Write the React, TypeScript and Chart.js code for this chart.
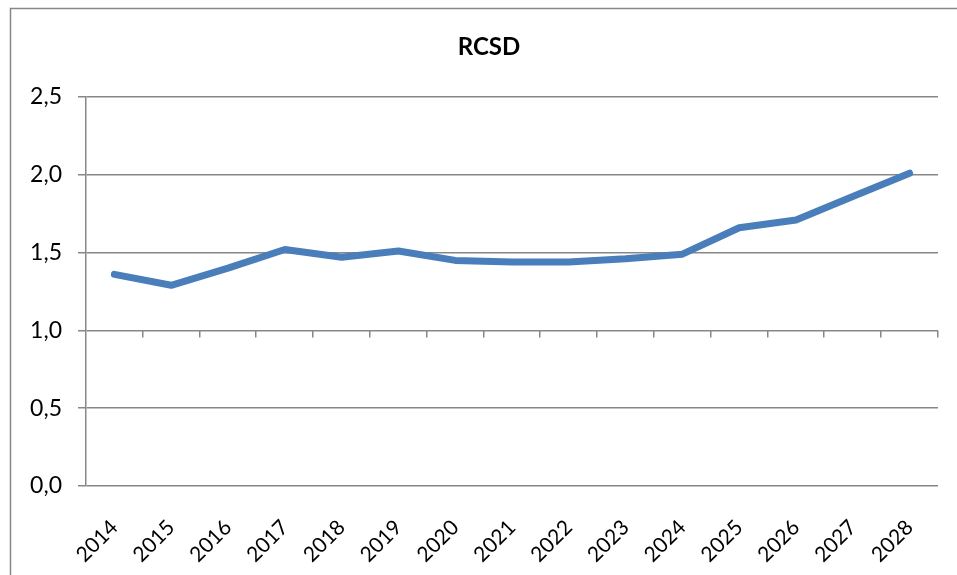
import React, { useEffect, useRef } from "react";
import { Chart, registerables } from "chart.js";

Chart.register(...registerables);

const years = ["2014", "2015", "2016", "2017", "2018", "2019", "2020", "2021", "2022", "2023", "2024", "2025", "2026", "2027", "2028"];
const rcsd = [1.36, 1.29, 1.40, 1.52, 1.47, 1.51, 1.45, 1.44, 1.44, 1.46, 1.49, 1.66, 1.71, 1.86, 2.01];
const yMin = 0;
const yMax = 2.5;
const yStep = 0.5;
const axisCross = 1.0;
const titleText = "RCSD";

const GRID = "#878787";
const FONT = "Lato, 'Open Sans', sans-serif";

const decor = {
  id: "decor",
  beforeDatasetsDraw(chart: any) {
    const { ctx } = chart;
    const xs = chart.scales.x;
    const ys = chart.scales.y;
    const yPix = ys.getPixelForValue(axisCross);
    const n = years.length;
    const w = (xs.right - xs.left) / n;
    ctx.save();
    ctx.strokeStyle = GRID;
    ctx.lineWidth = 1.5;
    for (let i = 1; i <= n; i++) {
      const x = Math.round(xs.left + i * w) - 0.25;
      ctx.beginPath();
      ctx.moveTo(x, yPix);
      ctx.lineTo(x, yPix + 7);
      ctx.stroke();
    }
    ctx.restore();
  },
  afterDraw(chart: any) {
    const { ctx } = chart;
    ctx.save();
    ctx.strokeStyle = GRID;
    ctx.lineWidth = 1.5;
    ctx.beginPath();
    ctx.moveTo(10.5, 600);
    ctx.lineTo(10.5, 8.5);
    ctx.lineTo(1000, 8.5);
    ctx.stroke();
    ctx.restore();
  },
};

export default function App() {
  const ref = useRef<HTMLCanvasElement | null>(null);
  useEffect(() => {
    if (!ref.current) return;
    const chart = new Chart(ref.current, {
      type: "line",
      data: {
        labels: years,
        datasets: [
          {
            label: titleText,
            data: rcsd,
            borderColor: "#4a7ebb",
            backgroundColor: "#4a7ebb",
            borderWidth: 7,
            borderCapStyle: "round",
            borderJoinStyle: "round",
            pointRadius: 0,
            tension: 0,
            fill: false,
            yAxisID: "y",
          },
        ],
      },
      options: {
        responsive: false,
        animation: false,
        layout: { padding: { left: 26, right: 5, top: 0, bottom: 0 } },
        plugins: {
          legend: { display: false },
          tooltip: { enabled: false },
          title: {
            display: true,
            text: titleText,
            color: "#000",
            font: { family: FONT, size: 24, weight: "bold" },
            lineHeight: 1.2,
            padding: { top: 33, bottom: 35.2 },
          },
        },
        scales: {
          x: {
            type: "category",
            offset: true,
            grid: { display: false, drawTicks: false },
            border: { display: false },
            ticks: {
              color: "#000",
              font: { family: FONT, size: 21 },
              maxRotation: 45,
              minRotation: 45,
              padding: 29,
              autoSkip: false,
            },
            afterFit(scale: any) {
              scale.height = 89;
            },
          },
          y: {
            position: "left",
            min: yMin,
            max: yMax,
            grid: { color: GRID, lineWidth: 1.5, tickLength: 8 },
            border: { display: true, color: GRID, width: 1.5 },
            ticks: {
              stepSize: yStep,
              color: "#000",
              font: { family: FONT, size: 23 },
              padding: 16,
              callback: (v: any) => Number(v).toFixed(1).replace(".", ","),
            },
            afterFit(scale: any) {
              scale.width = 60;
            },
          },
          yRight: {
            position: "right",
            display: true,
            min: yMin,
            max: yMax,
            grid: { display: false, drawTicks: false },
            border: { display: false },
            ticks: { display: false },
            afterFit(scale: any) {
              scale.width = 12;
            },
          },
        },
      },
      plugins: [decor],
    });
    return () => chart.destroy();
  }, []);
  return (
    <div style={{ position: "absolute", left: 0, top: 0, width: 957, height: 575, background: "#fff" }}>
      <canvas ref={ref} width={957} height={575} style={{ width: 957, height: 575, display: "block" }} />
    </div>
  );
}
